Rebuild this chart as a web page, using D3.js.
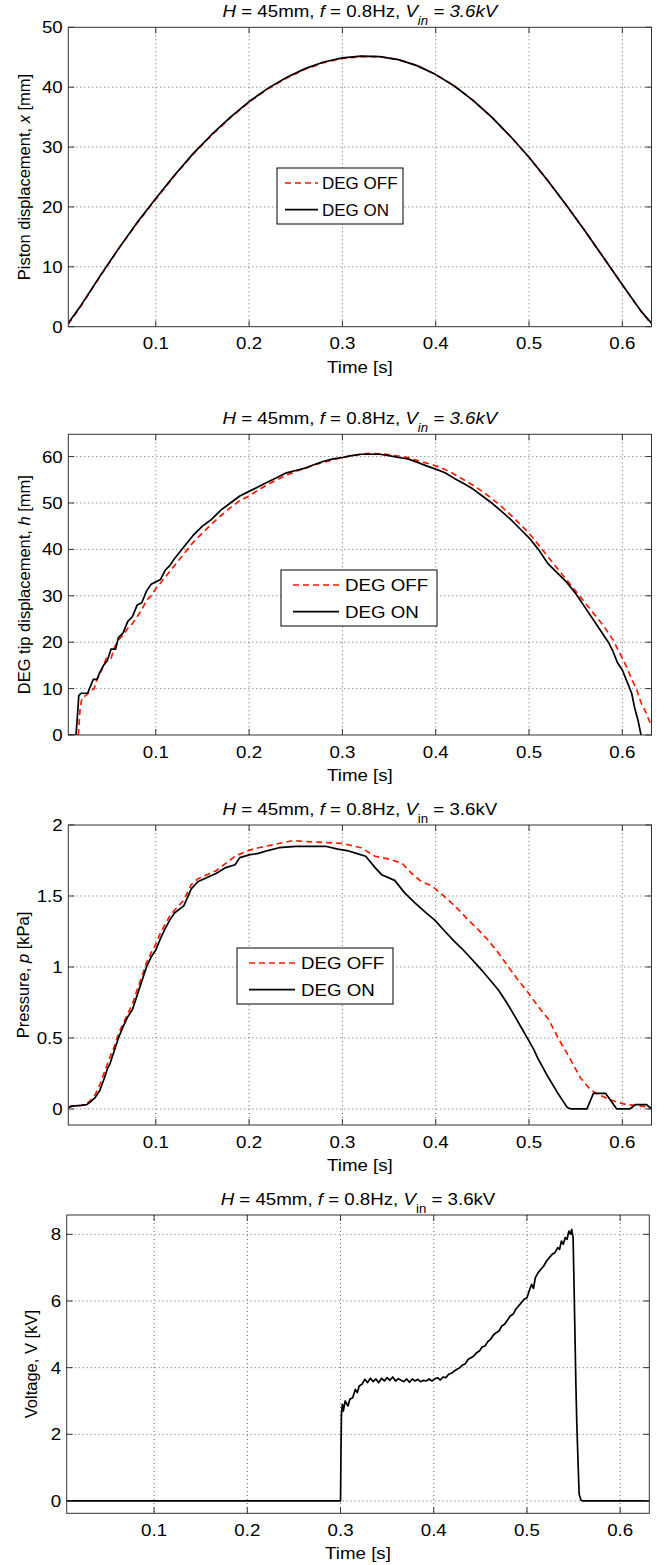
<!DOCTYPE html>
<html>
<head>
<meta charset="utf-8">
<script src="https://cdn.jsdelivr.net/npm/d3@7/dist/d3.min.js"></script>
<style>
    body { margin: 0; background: #fff; }
    svg text { font-family: "Liberation Sans", Arial, sans-serif; fill: #000; }
</style>
</head>
<body>
<div id="chart"></div>
<script>
// Shared time axis
var timeRange = [0.00625, 0.63125];
var timeTicks = [0.1, 0.2, 0.3, 0.4, 0.5, 0.6];

// Piston displacement x [mm]
var pistonTicks = [0, 10, 20, 30, 40, 50];
var pistonTime = [0.00625, 0.02, 0.04, 0.06, 0.08, 0.10, 0.12, 0.14, 0.16, 0.18, 0.20, 0.22, 0.24, 0.26, 0.28, 0.30, 0.32,
    0.34, 0.36, 0.38, 0.40, 0.42, 0.44, 0.46, 0.48, 0.50, 0.52, 0.54, 0.56, 0.58, 0.60, 0.62, 0.63125];
var pistonOff = [0.4, 3.5, 8.3, 13.0, 17.3, 21.3, 25.2, 28.8, 32.0, 34.9, 37.5, 39.7, 41.5, 43.0, 44.1, 44.8, 45.1,
    45.1, 44.6, 43.6, 42.1, 40.2, 37.8, 35.0, 31.8, 28.3, 24.4, 20.3, 16.0, 11.5, 7.0, 2.6, 0.4];
var pistonOn = [0.6, 3.6, 8.4, 13.0, 17.4, 21.4, 25.3, 28.9, 32.1, 35.0, 37.6, 39.8, 41.6, 43.1, 44.2, 44.9, 45.2,
    45.1, 44.6, 43.6, 42.1, 40.2, 37.8, 35.0, 31.8, 28.3, 24.4, 20.3, 16.0, 11.5, 7.0, 2.6, 0.6];

// DEG tip displacement h [mm]
var tipTicks = [0, 10, 20, 30, 40, 50, 60];
var tipOff = [[0.017, 0], [0.019, 6], [0.021, 8], [0.025, 8.5], [0.03, 9.5], [0.034, 10], [0.037, 12], [0.04, 13],
    [0.044, 15], [0.047, 16.5], [0.052, 16.5], [0.056, 19], [0.06, 20.5], [0.065, 21.5], [0.07, 23], [0.075, 24],
    [0.08, 25.5], [0.085, 27], [0.09, 29], [0.095, 30], [0.1, 31.5], [0.11, 34], [0.12, 36.5], [0.13, 39], [0.14, 41.5],
    [0.15, 43.5], [0.16, 45.5], [0.17, 47.3], [0.18, 49], [0.19, 50.5], [0.2, 51.5], [0.21, 52.8], [0.22, 54],
    [0.23, 55], [0.24, 56], [0.25, 56.8], [0.26, 57.5], [0.27, 58.2], [0.28, 58.8], [0.29, 59.3], [0.3, 59.8],
    [0.31, 60.2], [0.32, 60.5], [0.33, 60.7], [0.34, 60.6], [0.35, 60.4], [0.36, 60.1], [0.37, 59.8], [0.38, 59.2],
    [0.39, 58.6], [0.4, 58], [0.41, 57.2], [0.42, 56.2], [0.43, 55], [0.44, 53.8], [0.45, 52.5], [0.46, 51],
    [0.47, 49.3], [0.48, 47.5], [0.49, 45.5], [0.5, 43.5], [0.51, 41], [0.52, 38.5], [0.53, 36], [0.54, 33.5],
    [0.55, 31], [0.56, 28.5], [0.57, 26], [0.58, 23.5], [0.59, 20.5], [0.6, 16.5], [0.605, 14.5], [0.61, 12],
    [0.615, 10], [0.62, 7], [0.625, 5], [0.631, 2]];
var tipOn = [[0.00625, 0], [0.0145, 0], [0.016, 4], [0.0175, 8.5], [0.02, 9], [0.027, 9], [0.03, 10.5], [0.033, 12],
    [0.037, 12], [0.04, 13.5], [0.044, 15], [0.048, 16], [0.052, 18.5], [0.057, 18.5], [0.06, 21], [0.065, 22],
    [0.07, 24.5], [0.075, 25.5], [0.08, 28], [0.085, 28.5], [0.09, 31], [0.095, 32.5], [0.1, 33], [0.105, 33.5],
    [0.11, 35.5], [0.115, 36.5], [0.12, 38], [0.13, 40.5], [0.14, 43], [0.15, 45], [0.16, 46.5], [0.17, 48.5],
    [0.18, 50], [0.19, 51.5], [0.2, 52.5], [0.21, 53.5], [0.22, 54.5], [0.23, 55.5], [0.24, 56.5], [0.25, 57],
    [0.26, 57.5], [0.27, 58.3], [0.28, 59], [0.29, 59.5], [0.3, 59.8], [0.31, 60.2], [0.32, 60.5], [0.33, 60.5],
    [0.34, 60.5], [0.35, 60.2], [0.36, 59.8], [0.37, 59.5], [0.38, 58.8], [0.39, 58], [0.4, 57.3], [0.41, 56.5],
    [0.42, 55.3], [0.43, 54.2], [0.44, 53], [0.45, 51.5], [0.46, 50], [0.47, 48.3], [0.48, 46.5], [0.49, 44.5],
    [0.5, 42.5], [0.51, 40], [0.52, 37], [0.53, 35], [0.54, 33], [0.55, 30.5], [0.56, 27.5], [0.57, 24.5],
    [0.58, 21.5], [0.585, 20], [0.59, 18], [0.595, 15.5], [0.6, 14], [0.605, 11.5], [0.61, 9], [0.613, 6],
    [0.617, 3], [0.62, 0], [0.622, -1]];

// Pressure p [kPa]
var pressureTicks = [0, 0.5, 1, 1.5, 2];
var pressureOff = [[0.00625, 0.01], [0.01, 0.02], [0.02, 0.025], [0.026, 0.035], [0.03, 0.06], [0.035, 0.1],
    [0.04, 0.17], [0.045, 0.26], [0.05, 0.35], [0.055, 0.43], [0.06, 0.53], [0.065, 0.6], [0.07, 0.67], [0.075, 0.74],
    [0.08, 0.84], [0.085, 0.93], [0.09, 1.03], [0.095, 1.1], [0.1, 1.16], [0.105, 1.24], [0.11, 1.3], [0.115, 1.36],
    [0.12, 1.4], [0.13, 1.47], [0.138, 1.58], [0.145, 1.62], [0.155, 1.65], [0.165, 1.68], [0.175, 1.73],
    [0.185, 1.78], [0.199, 1.82], [0.21, 1.84], [0.225, 1.86], [0.247, 1.89], [0.27, 1.88], [0.3, 1.87],
    [0.32, 1.84], [0.335, 1.78], [0.35, 1.76], [0.364, 1.73], [0.374, 1.66], [0.385, 1.6], [0.396, 1.57],
    [0.405, 1.52], [0.414, 1.47], [0.425, 1.4], [0.435, 1.33], [0.446, 1.26], [0.456, 1.19], [0.467, 1.1],
    [0.478, 1.0], [0.488, 0.91], [0.499, 0.82], [0.51, 0.72], [0.521, 0.63], [0.532, 0.49], [0.54, 0.4],
    [0.546, 0.33], [0.555, 0.22], [0.566, 0.135], [0.575, 0.1], [0.587, 0.065], [0.596, 0.045], [0.605, 0.03],
    [0.615, 0.025], [0.631, 0.01]];
var pressureOn = [[0.00625, 0.01], [0.01, 0.02], [0.02, 0.025], [0.026, 0.03], [0.03, 0.05], [0.035, 0.08],
    [0.04, 0.13], [0.045, 0.22], [0.048, 0.28], [0.051, 0.32], [0.055, 0.4], [0.06, 0.5], [0.065, 0.58], [0.07, 0.65],
    [0.075, 0.7], [0.08, 0.8], [0.085, 0.9], [0.09, 1.0], [0.095, 1.07], [0.1, 1.12], [0.105, 1.2], [0.11, 1.27],
    [0.115, 1.33], [0.12, 1.38], [0.13, 1.43], [0.138, 1.55], [0.145, 1.6], [0.155, 1.63], [0.165, 1.66],
    [0.175, 1.7], [0.185, 1.72], [0.19, 1.77], [0.2, 1.79], [0.21, 1.8], [0.22, 1.82], [0.232, 1.84], [0.25, 1.85],
    [0.27, 1.85], [0.282, 1.85], [0.295, 1.83], [0.305, 1.82], [0.315, 1.8], [0.325, 1.78], [0.335, 1.7],
    [0.342, 1.65], [0.356, 1.61], [0.367, 1.52], [0.378, 1.45], [0.39, 1.38], [0.399, 1.33], [0.41, 1.25],
    [0.42, 1.18], [0.428, 1.13], [0.438, 1.06], [0.449, 0.98], [0.458, 0.91], [0.467, 0.84], [0.476, 0.75],
    [0.485, 0.65], [0.492, 0.57], [0.499, 0.49], [0.505, 0.42], [0.51, 0.35], [0.52, 0.23], [0.53, 0.12],
    [0.537, 0.05], [0.541, 0.01], [0.545, 0], [0.562, 0], [0.569, 0.11], [0.582, 0.11], [0.594, 0], [0.608, 0],
    [0.614, 0.03], [0.626, 0.03], [0.631, 0]];

// Voltage V [kV]
var voltageTicks = [0, 2, 4, 6, 8];
var voltageOn = [[0.00625, 0], [0.3, 0], [0.3005, 1.5], [0.301, 2.6], [0.302, 2.9], [0.303, 2.7], [0.305, 3.0],
    [0.308, 2.85], [0.31, 3.05], [0.313, 3.1], [0.316, 3.35], [0.318, 3.25], [0.32, 3.45], [0.323, 3.5],
    [0.326, 3.65], [0.329, 3.55], [0.332, 3.68], [0.335, 3.58], [0.338, 3.66], [0.341, 3.55], [0.344, 3.68],
    [0.347, 3.6], [0.35, 3.7], [0.353, 3.62], [0.356, 3.72], [0.359, 3.6], [0.362, 3.67], [0.365, 3.62],
    [0.368, 3.58], [0.371, 3.66], [0.374, 3.56], [0.377, 3.66], [0.38, 3.6], [0.383, 3.65], [0.386, 3.58],
    [0.389, 3.62], [0.392, 3.6], [0.395, 3.66], [0.398, 3.6], [0.401, 3.66], [0.404, 3.7], [0.407, 3.63],
    [0.41, 3.72], [0.413, 3.7], [0.416, 3.8], [0.419, 3.83], [0.422, 3.9], [0.425, 3.95], [0.428, 4.0],
    [0.431, 4.08], [0.434, 4.12], [0.437, 4.25], [0.44, 4.3], [0.443, 4.35], [0.446, 4.45], [0.449, 4.5],
    [0.452, 4.62], [0.455, 4.65], [0.458, 4.78], [0.461, 4.85], [0.464, 4.98], [0.467, 5.05], [0.47, 5.1],
    [0.473, 5.25], [0.476, 5.3], [0.479, 5.42], [0.482, 5.55], [0.485, 5.6], [0.488, 5.75], [0.491, 5.85],
    [0.494, 5.95], [0.497, 6.05], [0.5, 6.1], [0.503, 6.35], [0.505, 6.5], [0.507, 6.38], [0.509, 6.7],
    [0.512, 6.85], [0.515, 6.95], [0.518, 7.05], [0.521, 7.2], [0.524, 7.3], [0.527, 7.4], [0.53, 7.45],
    [0.533, 7.6], [0.535, 7.55], [0.537, 7.8], [0.539, 7.7], [0.541, 7.9], [0.543, 7.85], [0.545, 8.1],
    [0.547, 8.0], [0.548, 8.15], [0.5495, 7.9], [0.5505, 6.5], [0.5515, 5.0], [0.5525, 3.5], [0.5535, 2.3],
    [0.555, 1.0], [0.556, 0.2], [0.558, 0.02], [0.56, 0], [0.63125, 0]];

var legendLabels = ["DEG OFF", "DEG ON"];
var offColor = "#ff1a00";

// Panel layout (pixel boxes of each axes); legend = [x, y, w, h, lineStart, lineEnd, textStart, textScale]
var panels = [
    { box: [68.3, 27.3, 651.5, 326.7], yDomain: [0, 50], yTicks: pistonTicks, labelX: 24,
      ylabel: [["Piston displacement, ", false], ["x", true], [" [mm]", false]], italicTail: true,
      legend: [277, 168, 126, 56, 8, 41, 45, 1.0],
      off: pistonTime.map(function (t, i) { return [t, pistonOff[i]]; }),
      on: pistonTime.map(function (t, i) { return [t, pistonOn[i]]; }) },
    { box: [68.3, 434.3, 651.5, 735], yDomain: [0, 64.8], yTicks: tipTicks, labelX: 24,
      ylabel: [["DEG tip displacement, ", false], ["h", true], [" [mm]", false]], italicTail: true,
      legend: [281, 570, 156, 56, 12, 58, 64, 1.1], off: tipOff, on: tipOn },
    { box: [68.3, 825, 651.5, 1125], yDomain: [-0.113, 2], yTicks: pressureTicks, labelX: 23,
      ylabel: [["Pressure, ", false], ["p", true], [" [kPa]", false]], italicTail: false,
      legend: [237, 948, 156, 56, 12, 58, 64, 1.1], off: pressureOff, on: pressureOn },
    { box: [66.7, 1215, 649.3, 1513.3], yDomain: [-0.37, 8.58], yTicks: voltageTicks, labelX: 31.5,
      ylabel: [["Voltage, V [kV]", false]], italicTail: false,
      legend: null, off: null, on: voltageOn }
];

var svg = d3.select("#chart").append("svg")
    .attr("width", 671)
    .attr("height", 1565);

// Text that is slightly wider than the font, like the original export
function stretchedText(parent, x, y, anchor, size, sx) {
    return parent.append("g")
        .attr("transform", "translate(" + x + "," + y + ") scale(" + (sx || 1.1) + ",1)")
        .append("text")
        .attr("text-anchor", anchor)
        .style("font-size", size + "px");
}

panels.forEach(function (p, k) {
    var left = p.box[0], top = p.box[1], right = p.box[2], bottom = p.box[3];
    var g = svg.append("g");

    var x = d3.scaleLinear().domain(timeRange).range([left, right]);
    var y = d3.scaleLinear().domain(p.yDomain).range([bottom, top]);

    // Grid lines (dotted)
    g.selectAll(".vgrid").data(timeTicks).enter().append("line")
        .attr("x1", function (d) { return x(d); }).attr("x2", function (d) { return x(d); })
        .attr("y1", top).attr("y2", bottom)
        .attr("stroke", "#666").attr("stroke-width", 1).attr("stroke-dasharray", "1,3");
    g.selectAll(".hgrid").data(p.yTicks.filter(function (d) {
            return Math.abs(y(d) - top) > 1 && Math.abs(y(d) - bottom) > 1; })).enter().append("line")
        .attr("x1", left).attr("x2", right)
        .attr("y1", function (d) { return y(d); }).attr("y2", function (d) { return y(d); })
        .attr("stroke", "#666").attr("stroke-width", 1).attr("stroke-dasharray", "1,3");

    // Data lines, clipped to the axes
    var clipId = "clip" + k;
    svg.append("defs").append("clipPath").attr("id", clipId)
        .append("rect").attr("x", left).attr("y", top).attr("width", right - left).attr("height", bottom - top);

    var line = d3.line().x(function (d) { return x(d[0]); }).y(function (d) { return y(d[1]); });

    if (p.off) {
        g.append("path").datum(p.off)
            .attr("clip-path", "url(#" + clipId + ")")
            .attr("d", line).attr("fill", "none")
            .attr("stroke", offColor).attr("stroke-width", 1.7).attr("stroke-dasharray", "6,4");
    }
    g.append("path").datum(p.on)
        .attr("clip-path", "url(#" + clipId + ")")
        .attr("d", line).attr("fill", "none")
        .attr("stroke", "#000").attr("stroke-width", 1.7).attr("stroke-linejoin", "round");

    // Axes box
    g.append("rect")
        .attr("x", left).attr("y", top).attr("width", right - left).attr("height", bottom - top)
        .attr("fill", "none").attr("stroke", "#333").attr("stroke-width", 1);

    // Tick marks (inside, on all four sides)
    timeTicks.forEach(function (d) {
        g.append("line").attr("x1", x(d)).attr("x2", x(d)).attr("y1", bottom).attr("y2", bottom - 6)
            .attr("stroke", "#333");
        g.append("line").attr("x1", x(d)).attr("x2", x(d)).attr("y1", top).attr("y2", top + 6)
            .attr("stroke", "#333");
    });
    p.yTicks.forEach(function (d) {
        g.append("line").attr("x1", left).attr("x2", left + 6).attr("y1", y(d)).attr("y2", y(d))
            .attr("stroke", "#333");
        g.append("line").attr("x1", right).attr("x2", right - 6).attr("y1", y(d)).attr("y2", y(d))
            .attr("stroke", "#333");
    });

    // Tick labels
    timeTicks.forEach(function (d) {
        stretchedText(g, x(d), bottom + 22.5, "middle", 17).text(d3.format(".1f")(d));
    });
    p.yTicks.forEach(function (d) {
        stretchedText(g, left - 5.6, y(d) + 6, "end", 17).text(d);
    });

    // X label
    stretchedText(g, (left + right) / 2, bottom + 46, "middle", 17).text("Time [s]");

    // Y label
    var yl = g.append("text")
        .attr("transform", "translate(" + p.labelX + "," + (top + bottom) / 2 + ") rotate(-90)")
        .attr("text-anchor", "middle")
        .attr("dy", "0.35em")
        .style("font-size", "16.5px");
    p.ylabel.forEach(function (part) {
        yl.append("tspan").text(part[0]).style("font-style", part[1] ? "italic" : "normal");
    });

    // Title: H = 45mm, f = 0.8Hz, V_in = 3.6kV
    var title = stretchedText(g, (left + right) / 2, top - 10.5, "middle", 17);
    title.append("tspan").text("H").style("font-style", "italic");
    title.append("tspan").text(" = 45mm, ");
    title.append("tspan").text("f").style("font-style", "italic");
    title.append("tspan").text(" = 0.8Hz, ");
    title.append("tspan").text("V").style("font-style", "italic");
    title.append("tspan").text("in").attr("dy", 8).style("font-size", "12px")
        .style("font-style", p.italicTail ? "italic" : "normal");
    title.append("tspan").text(" = 3.6kV").attr("dy", -8)
        .style("font-style", p.italicTail ? "italic" : "normal");

    // Legend
    if (p.legend) {
        var lg = p.legend;
        var lx = lg[0], ly = lg[1], lw = lg[2], lh = lg[3];
        g.append("rect").attr("x", lx).attr("y", ly).attr("width", lw).attr("height", lh)
            .attr("fill", "#fff").attr("stroke", "#000").attr("stroke-width", 1);
        legendLabels.forEach(function (name, i) {
            var ry = ly + 15 + i * 26.7;
            g.append("line")
                .attr("x1", lx + lg[4]).attr("x2", lx + lg[5]).attr("y1", ry).attr("y2", ry)
                .attr("stroke", i === 0 ? offColor : "#000").attr("stroke-width", 1.7)
                .attr("stroke-dasharray", i === 0 ? "6,4" : null);
            stretchedText(g, lx + lg[6], ry + 6, "start", 17, lg[7]).text(name);
        });
    }
});
</script>
</body>
</html>
